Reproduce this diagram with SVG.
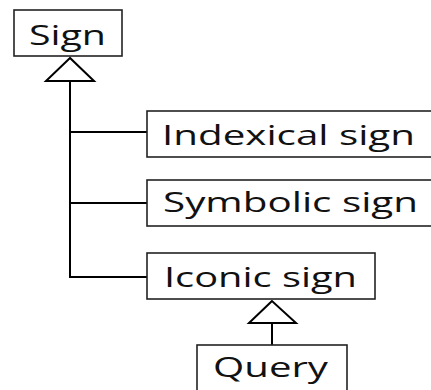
<svg xmlns="http://www.w3.org/2000/svg" width="431" height="390" viewBox="0 0 431 390">
  <style>
    .box { fill: #ffffff; stroke: #222222; stroke-width: 1.6; }
    .lbl { font-family: "Open Sans", "Noto Sans", sans-serif; font-size: 27px; fill: #111111; }
    .wire { fill: none; stroke: #000000; stroke-width: 2; }
    .head { fill: #ffffff; stroke: #000000; stroke-width: 2; stroke-linejoin: miter; }
  </style>
  <rect width="431" height="390" fill="#ffffff"/>

  <g id="connectors">
    <!-- generalisation trunk to Sign -->
    <line class="wire" x1="70" y1="81" x2="70" y2="277"/>
    <line class="wire" x1="69" y1="132" x2="148" y2="132"/>
    <line class="wire" x1="69" y1="203" x2="148" y2="203"/>
    <line class="wire" x1="69" y1="277" x2="148" y2="277"/>
    <polygon class="head" points="70,58 46,81 94,81"/>
    <!-- Query to Iconic sign -->
    <line class="wire" x1="272" y1="323" x2="272" y2="345"/>
    <polygon class="head" points="272,301 249,323 296,323"/>
  </g>

  <g id="sign">
    <rect class="box" x="14" y="10" width="108" height="46"/>
    <text class="lbl" x="29" y="45" textLength="77" lengthAdjust="spacingAndGlyphs">Sign</text>
  </g>
  <g id="indexical">
    <rect class="box" x="147" y="111" width="300" height="46"/>
    <text class="lbl" x="162" y="145" textLength="253" lengthAdjust="spacingAndGlyphs">Indexical sign</text>
  </g>
  <g id="symbolic">
    <rect class="box" x="147" y="180" width="300" height="46"/>
    <text class="lbl" x="163" y="212" textLength="255" lengthAdjust="spacingAndGlyphs">Symbolic sign</text>
  </g>
  <g id="iconic">
    <rect class="box" x="147" y="253" width="228" height="46"/>
    <text class="lbl" x="164" y="287" textLength="193" lengthAdjust="spacingAndGlyphs">Iconic sign</text>
  </g>
  <g id="query">
    <rect class="box" x="197" y="345" width="150" height="60"/>
    <text class="lbl" x="213" y="377" textLength="115" lengthAdjust="spacingAndGlyphs">Query</text>
  </g>
</svg>
